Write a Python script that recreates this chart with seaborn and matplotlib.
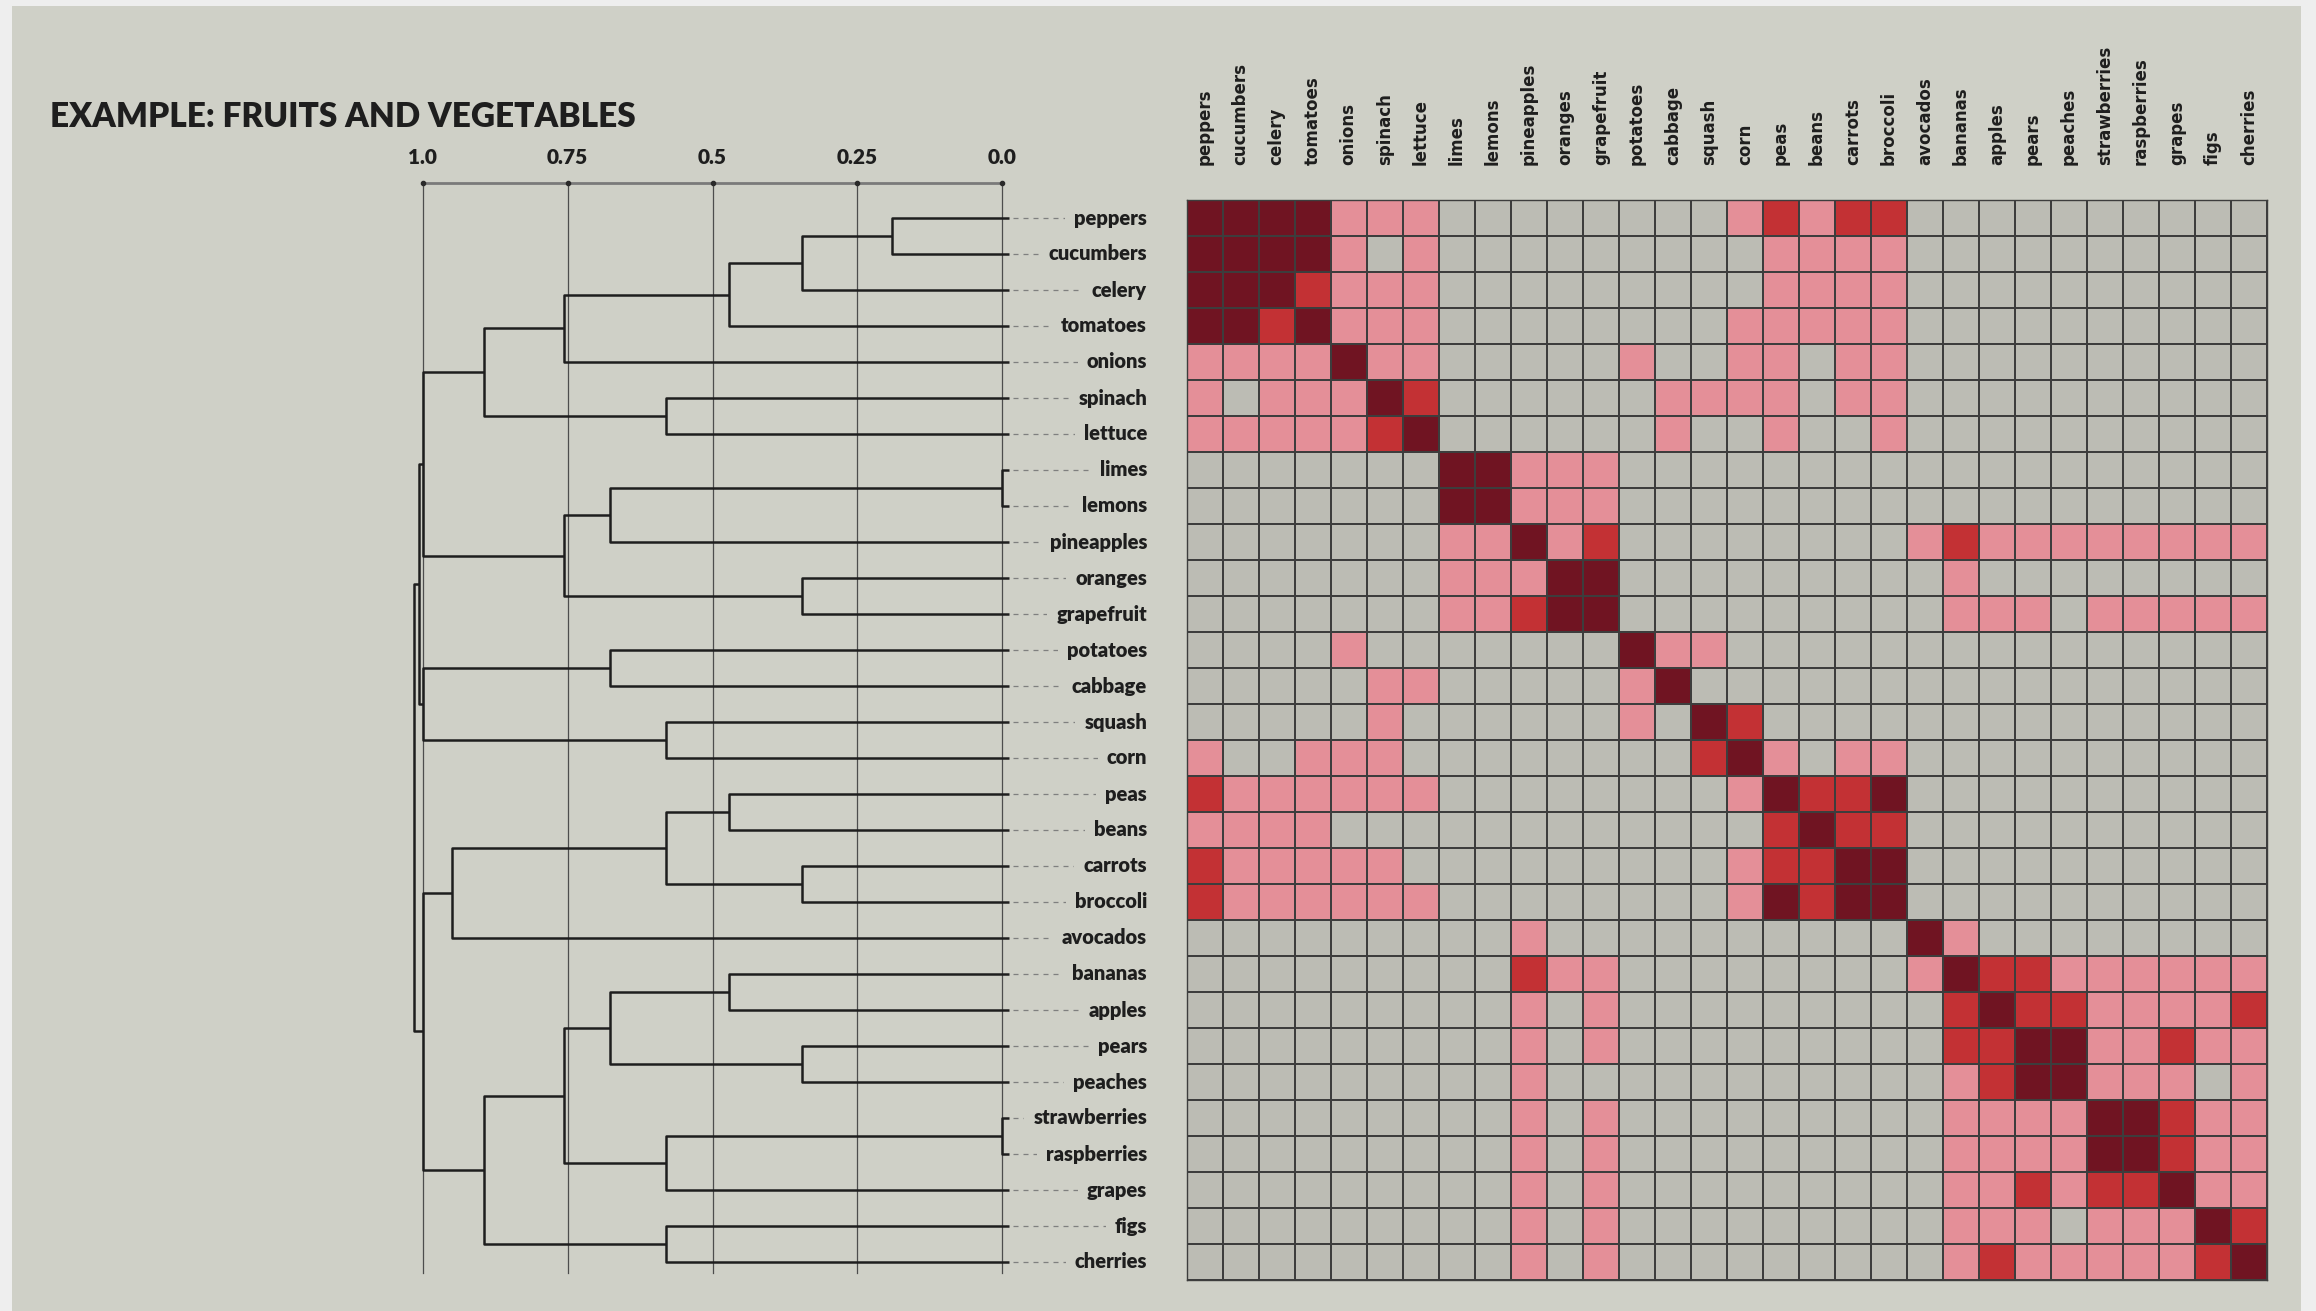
import numpy as np
import pandas as pd
import matplotlib
matplotlib.use("Agg")
import matplotlib.pyplot as plt
from matplotlib.colors import ListedColormap
import seaborn as sns

# ---------------------------------------------------------------- data
items = ["peppers", "cucumbers", "celery", "tomatoes", "onions", "spinach",
         "lettuce", "limes", "lemons", "pineapples", "oranges", "grapefruit",
         "potatoes", "cabbage", "squash", "corn", "peas", "beans", "carrots",
         "broccoli", "avocados", "bananas", "apples", "pears", "peaches",
         "strawberries", "raspberries", "grapes", "figs", "cherries"]

# pairwise similarity level (0 = none, 1 = weak, 2 = medium, 3 = strong),
# written in groups of 7 + 8 + 5 + 10 columns
similarity_rows = [
    "3333111" "00000000" "12122" "0000000000",
    "3333101" "00000000" "01111" "0000000000",
    "3332111" "00000000" "01111" "0000000000",
    "3323111" "00000000" "11111" "0000000000",
    "1111311" "00000100" "11011" "0000000000",
    "1011132" "00000011" "11011" "0000000000",
    "1111123" "00000010" "01001" "0000000000",
    "0000000" "33111000" "00000" "0000000000",
    "0000000" "33111000" "00000" "0000000000",
    "0000000" "11312000" "00000" "1211111111",
    "0000000" "11133000" "00000" "0100000000",
    "0000000" "11233000" "00000" "0111011111",
    "0000100" "00000311" "00000" "0000000000",
    "0000011" "00000130" "00000" "0000000000",
    "0000010" "00000103" "20000" "0000000000",
    "1001110" "00000002" "31011" "0000000000",
    "2111111" "00000000" "13223" "0000000000",
    "1111000" "00000000" "02322" "0000000000",
    "2111110" "00000000" "12233" "0000000000",
    "2111111" "00000000" "13233" "0000000000",
    "0000000" "00100000" "00000" "3100000000",
    "0000000" "00211000" "00000" "1322111111",
    "0000000" "00101000" "00000" "0232211112",
    "0000000" "00101000" "00000" "0223311211",
    "0000000" "00100000" "00000" "0123311101",
    "0000000" "00101000" "00000" "0111133211",
    "0000000" "00101000" "00000" "0111133211",
    "0000000" "00101000" "00000" "0112122311",
    "0000000" "00101000" "00000" "0111011132",
    "0000000" "00101000" "00000" "0121111123",
]

# hierarchical clustering: node ids < 30 are items, 30 + k is the k-th merge
merge_left = [0, 30, 31, 32, 5, 33, 7, 36, 10, 37, 35, 12, 14, 41, 40,
              16, 18, 45, 47, 21, 23, 49, 25, 52, 51, 28, 54, 48, 44]
merge_right = [1, 2, 3, 4, 6, 34, 8, 9, 11, 38, 39, 13, 15, 42, 43,
               17, 19, 46, 20, 22, 24, 50, 26, 27, 53, 29, 55, 56, 57]
merge_height = [0.19, 0.345, 0.472, 0.757, 0.581, 0.894, 0.0, 0.676, 0.345,
                0.757, 1.0, 0.676, 0.581, 1.0, 1.007, 0.472, 0.345, 0.581,
                0.95, 0.472, 0.345, 0.676, 0.0, 0.581, 0.757, 0.581, 0.894,
                1.0, 1.015]

distance_ticks = [1.0, 0.75, 0.5, 0.25, 0.0]
distance_tick_labels = ["1.0", "0.75", "0.5", "0.25", "0.0"]

# ---------------------------------------------------------------- style
BG = "#CFD0C7"
OUTER = "#EEEEEE"
INK = "#1E1E1E"
level_colors = ["#BCBCB4", "#E48F98", "#C33134", "#701422"]

W, H, DPI = 2316, 1311, 100
fig = plt.figure(figsize=(W / DPI, H / DPI), dpi=DPI, facecolor=OUTER)

# panel behind everything
fig.patches.append(plt.Rectangle((12 / W, 0), 2289 / W, (H - 6) / H,
                                 transform=fig.transFigure, facecolor=BG,
                                 edgecolor="none", zorder=-10))

fig.text(50 / W, 1 - 127 / H, "EXAMPLE: FRUITS AND VEGETABLES",
         fontsize=24, fontweight="heavy", family=["Lato", "DejaVu Sans"],
         color=INK, va="baseline", ha="left")

# common vertical extent of the matrix rows
hm_left, hm_right = 1186.7, 2267.0
hm_top, hm_bottom = 200.0, 1280.0
row_px = (hm_bottom - hm_top) / len(items)
ax_bottom = 1 - hm_bottom / H
ax_height = (hm_bottom - hm_top) / H

# ---------------------------------------------------------------- dendrogram
px_zero, px_per_unit = 1002.3, 579.6
d_left_px, d_right_px = 380.0, 1150.0
axd = fig.add_axes([d_left_px / W, ax_bottom, (d_right_px - d_left_px) / W, ax_height])
axd.set_xlim((px_zero - d_left_px) / px_per_unit, (px_zero - d_right_px) / px_per_unit)
axd.set_ylim(len(items), 0)
axd.axis("off")

axis_y = -(hm_top - 183) / row_px
label_y = -(hm_top - 157) / row_px
grid_end = (1273 - hm_top) / row_px

for v in distance_ticks:
    axd.plot([v, v], [axis_y, grid_end], color="#4d4d4d", lw=0.9,
             clip_on=False, zorder=1)
axd.plot([distance_ticks[0], distance_ticks[-1]], [axis_y, axis_y],
         color="#7a7a7a", lw=2.0, clip_on=False, zorder=2)
axd.scatter(distance_ticks, [axis_y] * len(distance_ticks), s=9,
            color="#2a2a2a", clip_on=False, zorder=3)
for v, t in zip(distance_ticks, distance_tick_labels):
    axd.text(v, label_y, t, ha="center", va="center", fontsize=15,
             fontweight="heavy", family=["Lato", "DejaVu Sans"], color=INK)

leaf_end = -0.012
n = len(items)
node_x = {i: leaf_end for i in range(n)}
node_y = {i: i + 0.5 for i in range(n)}
for k, (a, b, h) in enumerate(zip(merge_left, merge_right, merge_height)):
    node = n + k
    node_x[node] = h
    node_y[node] = (node_y[a] + node_y[b]) / 2
    axd.plot([node_x[a], h, h, node_x[b]],
             [node_y[a], node_y[a], node_y[b], node_y[b]],
             color=INK, lw=1.8, solid_capstyle="butt", zorder=4,
             clip_on=False)

# dashed leaders from leaves towards the item names
leader_end = (px_zero - 1146) / px_per_unit
for i in range(n):
    axd.plot([leaf_end - 0.006, leader_end], [i + 0.5, i + 0.5],
             color="#7f7f7f", lw=0.9, ls=(0, (4, 4)), zorder=2,
             clip_on=False)

# ---------------------------------------------------------------- heatmap
matrix = np.array([[int(c) for c in row] for row in similarity_rows])
df = pd.DataFrame(matrix, index=items, columns=items)

axh = fig.add_axes([hm_left / W, ax_bottom, (hm_right - hm_left) / W, ax_height])
sns.heatmap(df, ax=axh, cmap=ListedColormap(level_colors), vmin=-0.5,
            vmax=3.5, cbar=False, linewidths=1.3, linecolor="#3d3d3d",
            xticklabels=True, yticklabels=True)
axh.xaxis.tick_top()
axh.tick_params(axis="x", length=0, pad=25)
axh.tick_params(axis="y", length=0, pad=28.5)
for lab in axh.get_xticklabels():
    lab.set_rotation(90)
    lab.set_fontsize(12)
    lab.set_fontweight("bold")
    lab.set_family("DejaVu Sans")
    lab.set_color(INK)
    lab.set_va("bottom")
for lab in axh.get_yticklabels():
    lab.set_rotation(0)
    lab.set_fontsize(14.5)
    lab.set_fontweight("heavy")
    lab.set_family(["Lato", "DejaVu Sans"])
    lab.set_color(INK)
    lab.set_bbox(dict(boxstyle="square,pad=0.45", facecolor=BG, edgecolor="none"))
for sp in axh.spines.values():
    sp.set_visible(True)
    sp.set_color("#3d3d3d")
    sp.set_linewidth(1.0)
axh.set_xlabel("")
axh.set_ylabel("")

fig.savefig("out.png", dpi=DPI, facecolor=OUTER)
